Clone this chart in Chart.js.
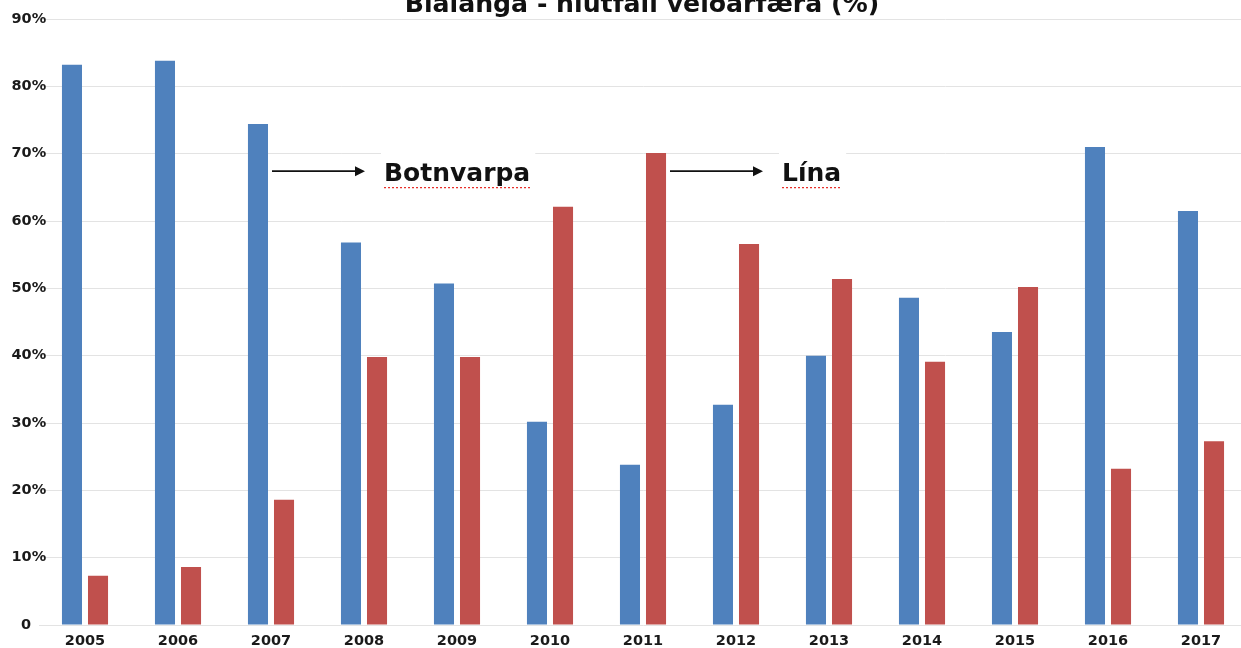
<!DOCTYPE html>
<html>
<head>
<meta charset="utf-8">
<script src="https://cdn.jsdelivr.net/npm/chart.js@4/dist/chart.umd.min.js"></script>
<style>
html,body{margin:0;padding:0;background:#fff;overflow:hidden;width:1241px;height:648px;}
canvas{display:block;}
</style>
</head>
<body>
<canvas id="c" width="1250" height="648"></canvas>
<script>
const title = "Blálanga - hlutfall veiðarfæra (%)";
const years = ["2005","2006","2007","2008","2009","2010","2011","2012","2013","2014","2015","2016","2017"];
const botnvarpa = [83.2, 83.8, 74.4, 56.8, 50.7, 30.2, 23.8, 32.7, 40.0, 48.6, 43.5, 71.0, 61.5];
const lina = [7.3, 8.6, 18.6, 39.8, 39.8, 62.1, 70.1, 56.6, 51.4, 39.1, 50.2, 23.2, 27.3];
const yTicks = [0, 10, 20, 30, 40, 50, 60, 70, 80, 90];
// annotations: label, year index where arrow starts, value level
const annotations = [
  {label: "Botnvarpa", index: 2, level: 67.4, start: 1},
  {label: "Lína", index: 6, level: 67.4, start: 27}
];

const FONT = "'DejaVu Sans', sans-serif";

const overlay = {
  id: 'overlay',
  afterDraw(chart) {
    const ctx = chart.ctx;
    const xs = chart.scales.x, ys = chart.scales.y;
    ctx.save();
    // title
    ctx.fillStyle = '#111';
    ctx.font = "bold 25.2px " + FONT;
    ctx.textAlign = 'center';
    ctx.textBaseline = 'alphabetic';
    ctx.fillText(title, 642, 12);
    // annotations
    annotations.forEach(a => {
      const x0 = xs.getPixelForValue(a.index) + a.start;
      const y = ys.getPixelForValue(a.level);
      const x1 = x0 + 93;
      ctx.strokeStyle = '#111';
      ctx.lineWidth = 1.6;
      ctx.beginPath();
      ctx.moveTo(x0, y);
      ctx.lineTo(x1 - 8, y);
      ctx.stroke();
      ctx.fillStyle = '#111';
      ctx.beginPath();
      ctx.moveTo(x1, y);
      ctx.lineTo(x1 - 10, y - 5);
      ctx.lineTo(x1 - 10, y + 5);
      ctx.closePath();
      ctx.fill();
      ctx.font = "bold 25px " + FONT;
      const tw = ctx.measureText(a.label).width;
      const tx = x1 + 19;
      // white box behind label
      ctx.fillStyle = '#fff';
      ctx.fillRect(tx - 3, y - 20, tw + 8, 34);
      ctx.fillStyle = '#111';
      ctx.textAlign = 'left';
      ctx.textBaseline = 'alphabetic';
      ctx.fillText(a.label, tx, y + 10);
      // red dotted underline
      ctx.strokeStyle = '#e8302a';
      ctx.lineWidth = 1.4;
      ctx.setLineDash([2, 2]);
      ctx.beginPath();
      ctx.moveTo(tx, y + 16.5);
      ctx.lineTo(tx + tw, y + 16.5);
      ctx.stroke();
      ctx.setLineDash([]);
    });
    ctx.restore();
  }
};

new Chart(document.getElementById('c'), {
  type: 'bar',
  data: {
    labels: years,
    datasets: [
      {label: 'Botnvarpa', data: botnvarpa, backgroundColor: '#4f81bd', borderWidth: 0,
       categoryPercentage: 0.56, barPercentage: 0.77},
      {label: 'Lína', data: lina, backgroundColor: '#c0504d', borderWidth: 0,
       categoryPercentage: 0.56, barPercentage: 0.77}
    ]
  },
  options: {
    responsive: false,
    animation: false,
    layout: {padding: {top: 19, right: 2.5, left: 0, bottom: 0}},
    plugins: {legend: {display: false}, title: {display: false}, tooltip: {enabled: false}},
    scales: {
      x: {
        grid: {display: false, drawTicks: false},
        border: {display: false},
        ticks: {color: '#1a1a1a', font: {family: FONT, size: 14.5, weight: 'bold'}, padding: 8, maxRotation: 0},
        afterFit(s) { s.height = 23; }
      },
      y: {
        min: 0, max: 90,
        afterBuildTicks(s) { s.ticks = yTicks.map(v => ({value: v})); },
        grid: {color: '#e3e3e3', lineWidth: 1, drawTicks: false},
        border: {display: false},
        ticks: {
          color: '#1a1a1a',
          font: {family: FONT, size: 14.5, weight: 'bold'},
          mirror: true,
          crossAlign: 'far',
          padding: -27,
          callback: v => v === 0 ? '0\u00A0\u00A0\u00A0' : v + '%'
        },
        afterFit(s) { s.width = 38.5; }
      }
    }
  },
  plugins: [overlay]
});
</script>
</body>
</html>
